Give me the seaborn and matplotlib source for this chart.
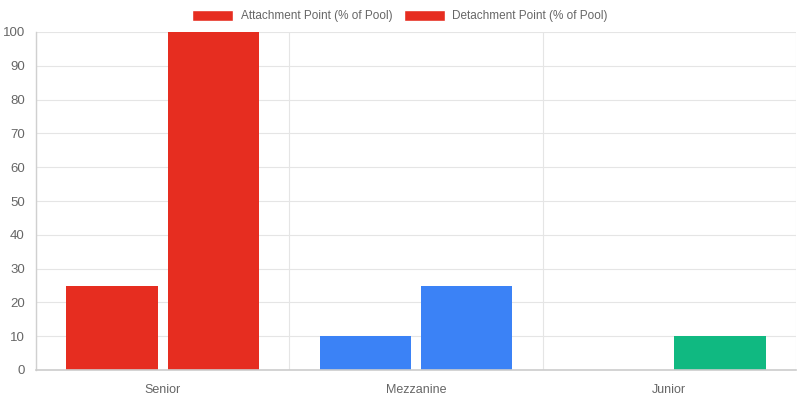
import pandas as pd
import matplotlib.pyplot as plt
import matplotlib.patches as mpatches
import seaborn as sns

tranches = ["Senior", "Mezzanine", "Junior"]
attachment = [25, 10, 0]
detachment = [100, 25, 10]
series_names = ["Attachment Point (% of Pool)", "Detachment Point (% of Pool)"]
tranche_colors = ["#e62d20", "#3b82f6", "#10b981"]

df = pd.DataFrame({
    "Tranche": tranches * 2,
    "Value": attachment + detachment,
    "Series": [series_names[0]] * 3 + [series_names[1]] * 3,
})

sns.set_style("white")
plt.rcParams["font.family"] = ["Liberation Sans", "DejaVu Sans"]

fig = plt.figure(figsize=(8, 4), dpi=100)
ax = fig.add_axes([0.045, 0.075, 0.95, 0.845])

sns.barplot(data=df, x="Tranche", y="Value", hue="Series", order=tranches,
            hue_order=series_names, width=0.8, gap=0.1, ax=ax, legend=False,
            saturation=1)

# color each bar by its tranche
for cont in ax.containers:
    for i, bar in enumerate(cont):
        bar.set_facecolor(tranche_colors[i])
        bar.set_edgecolor("none")

ax.set_xlim(-0.5, 2.5)
ax.set_ylim(0, 100)
ax.set_yticks(range(0, 101, 10))
ax.set_xlabel("")
ax.set_ylabel("")

grid_c = "#e5e5e5"
ax.set_xticks([-0.5, 0.5, 1.5, 2.5], minor=True)
ax.grid(True, axis="y", color=grid_c, linewidth=0.8)
ax.grid(True, axis="x", which="minor", color=grid_c, linewidth=0.8)
ax.set_axisbelow(True)
ax.tick_params(axis="x", which="major", length=0, pad=10, labelsize=9, labelcolor="#666666")
ax.tick_params(axis="x", which="minor", length=7.5, color="#d8d8d8", width=0.8)
ax.tick_params(axis="y", length=6, color=grid_c, width=0.8, pad=2, labelsize=9.5, labelcolor="#666666")

for s in ["top", "right"]:
    ax.spines[s].set_visible(False)
ax.spines["left"].set_color("#d0d0d0")
ax.spines["bottom"].set_color("#cccccc")
ax.spines["bottom"].set_linewidth(1.2)
ax.spines["left"].set_linewidth(1.0)

handles = [mpatches.Patch(facecolor=tranche_colors[0], label=n) for n in series_names]
fig.legend(handles=handles, loc="center", bbox_to_anchor=(0.5, 0.96), ncol=2,
           frameon=False, fontsize=8.5, handlelength=3.5, handleheight=1.1,
           handletextpad=0.6, columnspacing=1.0, labelcolor="#666666")

plt.savefig("out.png", dpi=100)
